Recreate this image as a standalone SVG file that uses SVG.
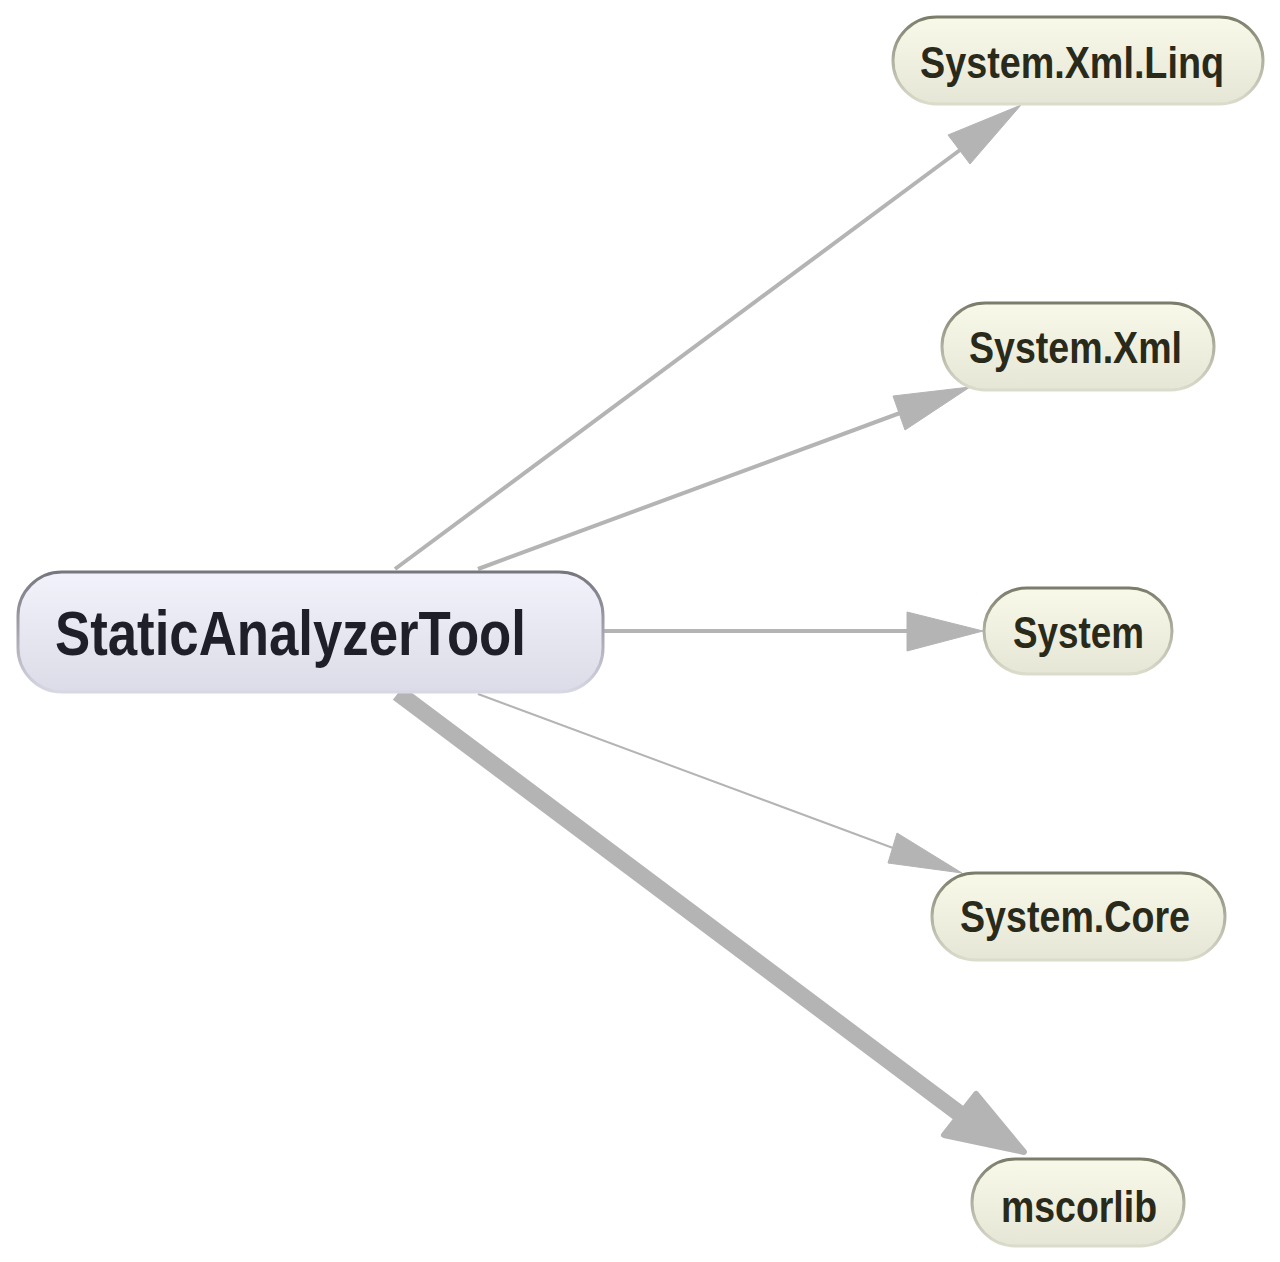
<svg xmlns="http://www.w3.org/2000/svg" width="1280" height="1262" viewBox="0 0 1280 1262">
<defs>
<linearGradient id="gMain" x1="0" y1="0" x2="0" y2="1">
<stop offset="0" stop-color="#f2f2fb"/>
<stop offset="1" stop-color="#dcdce8"/>
</linearGradient>
<linearGradient id="gMainS" x1="0" y1="0" x2="0" y2="1">
<stop offset="0" stop-color="#76767e"/>
<stop offset="0.5" stop-color="#a4a4b0"/>
<stop offset="1" stop-color="#d8d8e4"/>
</linearGradient>
<linearGradient id="gDep" x1="0" y1="0" x2="0" y2="1">
<stop offset="0" stop-color="#f9f9ea"/>
<stop offset="1" stop-color="#e6e6d6"/>
</linearGradient>
<linearGradient id="gDepS" x1="0" y1="0" x2="0" y2="1">
<stop offset="0" stop-color="#7c7c6a"/>
<stop offset="0.5" stop-color="#b0b0a0"/>
<stop offset="1" stop-color="#dcdccc"/>
</linearGradient>
</defs>
<style>
.edge{stroke:#b4b4b4;fill:none;}
.head{fill:#b4b4b4;stroke:#b4b4b4;stroke-linejoin:round;}
.main{fill:url(#gMain);stroke:url(#gMainS);stroke-width:3;}
.dep{fill:url(#gDep);stroke:url(#gDepS);stroke-width:3;}
.tmain{font-family:"Liberation Sans",Arial,sans-serif;font-weight:bold;font-size:63px;fill:#1f1f29;}
.tdep{font-family:"Liberation Sans",Arial,sans-serif;font-weight:bold;font-size:44px;fill:#2a2a1a;}
</style>
<rect width="1280" height="1262" fill="#ffffff"/>
<g id="connectors">
<line class="edge" x1="395" y1="569" x2="960" y2="150" stroke-width="4"/>
<polygon class="head" points="1021,105 948,135 970,164" stroke-width="1"/>
<line class="edge" x1="478" y1="569" x2="900" y2="413" stroke-width="4"/>
<polygon class="head" points="970,387 893,396 905,430" stroke-width="1"/>
<line class="edge" x1="603" y1="631" x2="908" y2="631" stroke-width="4"/>
<polygon class="head" points="983,631 907,612 907,651" stroke-width="1"/>
<line class="edge" x1="478" y1="694" x2="893" y2="848" stroke-width="2"/>
<polygon class="head" points="962,873 897,833 888,863" stroke-width="1"/>
<line class="edge" x1="398" y1="693" x2="960" y2="1114" stroke-width="17"/>
<polygon class="head" points="1024,1152 976,1094 944,1135" stroke-width="6"/>
</g>
<g id="node-StaticAnalyzerTool">
<rect class="main" x="18" y="572" width="585" height="120" rx="44" ry="44"/>
<text class="tmain" x="55" y="655" textLength="471" lengthAdjust="spacingAndGlyphs">StaticAnalyzerTool</text>
</g>
<g id="node-System.Xml.Linq">
<rect class="dep" x="893" y="17" width="370" height="87" rx="43.5" ry="43.5"/>
<text class="tdep" x="920" y="78" textLength="304" lengthAdjust="spacingAndGlyphs">System.Xml.Linq</text>
</g>
<g id="node-System.Xml">
<rect class="dep" x="942" y="303" width="272" height="87" rx="43.5" ry="43.5"/>
<text class="tdep" x="969" y="363" textLength="213" lengthAdjust="spacingAndGlyphs">System.Xml</text>
</g>
<g id="node-System">
<rect class="dep" x="984" y="588" width="188" height="86" rx="43" ry="43"/>
<text class="tdep" x="1013" y="648" textLength="131" lengthAdjust="spacingAndGlyphs">System</text>
</g>
<g id="node-System.Core">
<rect class="dep" x="932" y="873" width="293" height="87" rx="43.5" ry="43.5"/>
<text class="tdep" x="960" y="932" textLength="230" lengthAdjust="spacingAndGlyphs">System.Core</text>
</g>
<g id="node-mscorlib">
<rect class="dep" x="972" y="1159" width="212" height="87" rx="43.5" ry="43.5"/>
<text class="tdep" x="1001" y="1222" textLength="156" lengthAdjust="spacingAndGlyphs">mscorlib</text>
</g>
</svg>
